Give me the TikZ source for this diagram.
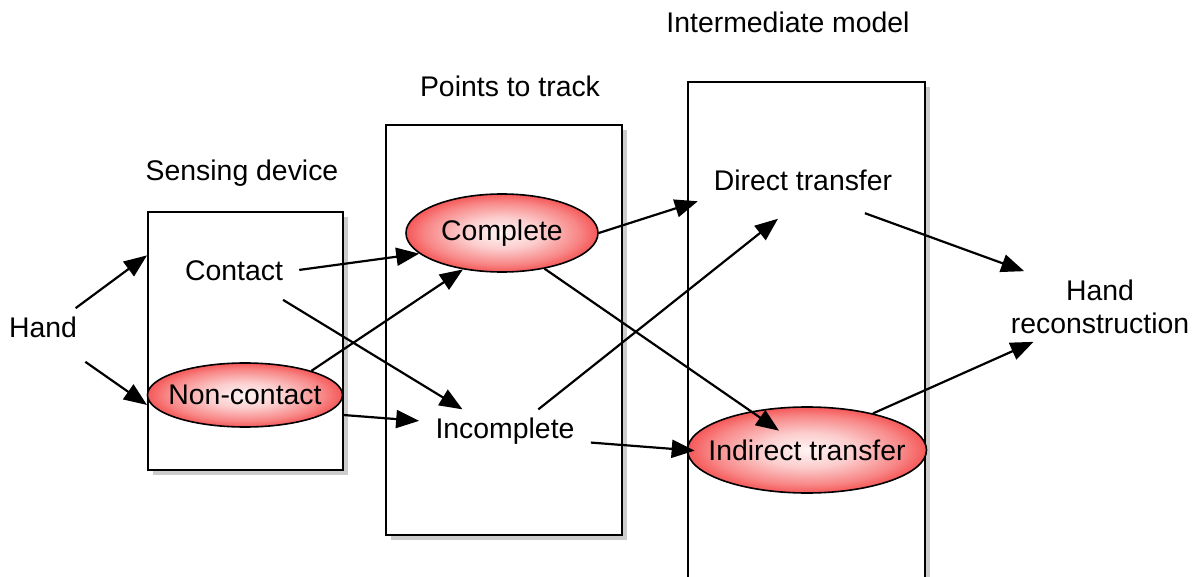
\documentclass[tikz,border=0pt]{standalone}
\usepackage{fontspec}
\setmainfont{Liberation Sans}
\usetikzlibrary{arrows.meta,calc,positioning,shapes.geometric,shadows}

\definecolor{ovalred}{RGB}{245,88,88}
\definecolor{ovaldeep}{RGB}{248,135,135}
\definecolor{ovalmid}{RGB}{252,205,205}
\definecolor{ovalpale}{RGB}{255,244,244}
\pgfdeclareradialshading{ovalshade}{\pgfpoint{0bp}{0bp}}{color(0bp)=(ovalpale); color(10bp)=(ovalmid); color(20bp)=(ovaldeep); color(25bp)=(ovalred); color(50bp)=(ovalred)}
\newcommand{\ovaltxt}[1]{\makebox[0pt]{#1}}

\begin{document}
\begin{tikzpicture}[x=0.5pt,y=-0.5pt,font=\fontsize{14.2}{16.5}\selectfont]
  \tikzset{box/.style={draw=black,line width=1pt,fill=white,inner sep=0pt,
    drop shadow={shadow xshift=2.5pt,shadow yshift=-2.5pt,opacity=0.4}}}
  \tikzset{lbl/.style={inner sep=4pt}}
  \tikzset{oval/.style={ellipse,draw=black,line width=0.8pt,shade,shading=ovalshade,inner sep=0pt}}
  \tikzset{arr/.style={line width=1.1pt,-{Triangle[length=11.5pt,width=9pt]}}}

  \useasboundingbox (0,0) rectangle (1204,577);
  \clip (0,0) rectangle (1204,577);

  % Stage boxes
  \node[box,minimum width=97.5pt,minimum height=129pt] (sensing) at (245.5,341) {};
  \node[box,minimum width=118pt,minimum height=205pt] (points) at (504,330) {};
  \node[box,minimum width=118.5pt,minimum height=270pt] (inter) at (806.5,352) {};

  \node[lbl] (sensingtitle) at (242,173) {Sensing device};
  \node[lbl] (pointstitle) at (510,86) {Points to track};
  \node[lbl] (intertitle) at (788,22) {Intermediate model};

  % Items
  \node[lbl] (hand) at (43,327) {Hand};
  \node[lbl] (contact) at (234,271) {Contact};
  \node[oval,minimum width=97.5pt,minimum height=32pt] (noncontact) at (245,395) {\ovaltxt{Non-contact}};
  \node[oval,minimum width=96pt,minimum height=39pt] (complete) at (502,233) {\ovaltxt{Complete}};
  \node[lbl] (incomplete) at (505,431) {Incomplete};
  \node[lbl] (direct) at (803,180) {Direct transfer};
  \node[oval,minimum width=119.5pt,minimum height=43pt] (indirect) at (807,450) {\ovaltxt{Indirect transfer}};
  \node[lbl,align=center] (recon) at (1100,306.5) {Hand\\reconstruction};

  % Flows
  \draw[arr] (hand.30) -- (sensing.139);
  \draw[arr] ([yshift=-8pt]hand.south east) -- (sensing.213);
  \draw[arr,shorten <=4pt] (contact.east) -- (complete.194);
  \draw[arr,shorten <=10pt] (contact.-30) -- (incomplete.153);
  \draw[arr] (noncontact.20) -- (complete.223);
  \draw[arr,shorten >=4pt] ([yshift=-10pt]noncontact.east) -- (incomplete.173);
  \draw[arr,shorten >=4pt] (complete.east) -- (direct.south west);
  \draw[arr,shorten >=17pt] (complete.-40) -- (indirect.center);
  \draw[arr,shorten >=16pt] (incomplete.33) -- (direct.south);
  \draw[arr,shorten <=4pt,shorten >=-4pt] (incomplete.-8) -- (indirect.west);
  \draw[arr,shorten <=21pt] (direct.-40) -- (recon.155);
  \draw[arr] (indirect.29) -- (recon.208);
\end{tikzpicture}
\end{document}
